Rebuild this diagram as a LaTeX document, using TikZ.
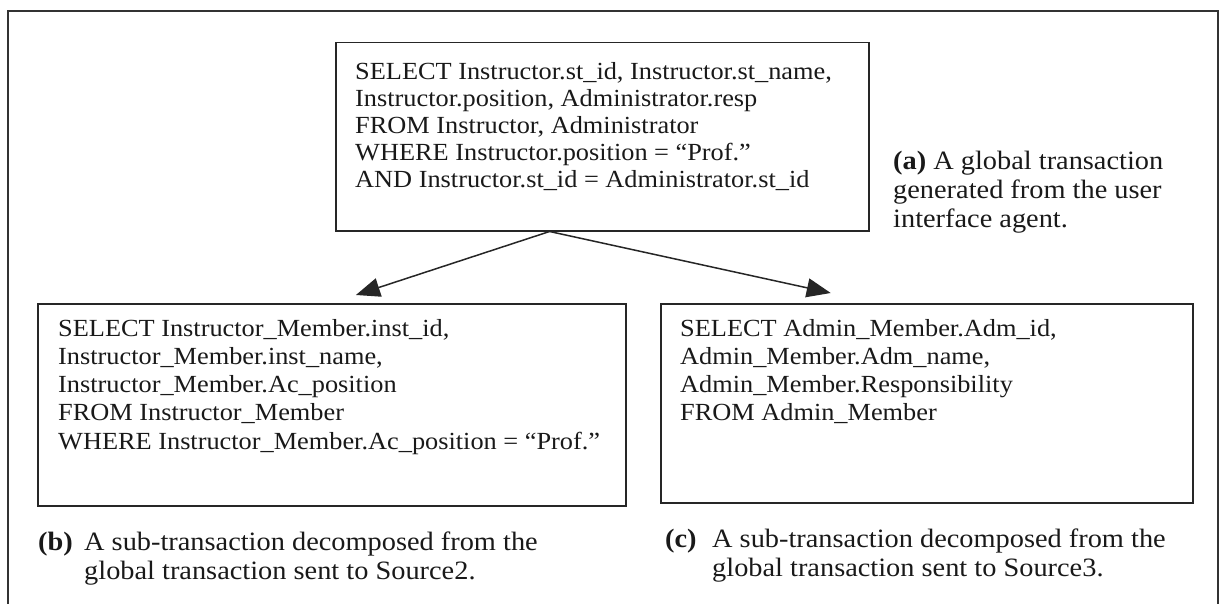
\documentclass[tikz,border=0pt]{standalone}
\usepackage{fontspec}
\setmainfont{Liberation Serif}[FakeStretch=1.07]
\usetikzlibrary{arrows.meta,calc}

\begin{document}
\begin{tikzpicture}[x=1pt,y=-1pt,
  frame/.style={draw=black!80, line width=1.3pt},
  qbox/.style={draw=black!85, line width=1.5pt, anchor=north west, inner sep=0pt},
  qtext/.style={anchor=north west, align=left, inner sep=0pt,
    font=\fontsize{24.6}{27}\selectfont, text=black!90},
  qtextb/.style={qtext, font=\fontsize{24.6}{28.2}\selectfont},
  captext/.style={anchor=north west, align=left, inner sep=0pt,
    font=\fontsize{26.5}{29}\selectfont, text=black!90},
  flow/.style={draw=black!85, line width=1.5pt,
    -{Triangle[length=24pt,width=19pt]}}]
\useasboundingbox (0,0) rectangle (1223,604);

% outer frame (open at the bottom)
\draw[frame] (8,604) -- (8,11) -- (1218,11) -- (1218,604);

% global transaction
\node[qbox, minimum width=533pt, minimum height=188pt] (glob) at (335,42) {};
\node[qtext] (globtxt) at (355,62) {SELECT Instructor.st\_id, Instructor.st\_name,\\
Instructor.position, Administrator.resp\\
FROM Instructor, Administrator\\
WHERE Instructor.position = “Prof.”\\
AND Instructor.st\_id = Administrator.st\_id};

% sub-transaction for Source2
\node[qbox, minimum width=588pt, minimum height=202pt] (src2) at (37,303) {};
\node[qtextb] (src2txt) at (58,319) {SELECT Instructor\_Member.inst\_id,\\
Instructor\_Member.inst\_name,\\
Instructor\_Member.Ac\_position\\
FROM Instructor\_Member\\
WHERE Instructor\_Member.Ac\_position = “Prof.”};

% sub-transaction for Source3
\node[qbox, minimum width=532pt, minimum height=199pt] (src3) at (660,303) {};
\node[qtextb] (src3txt) at (680,319) {SELECT Admin\_Member.Adm\_id,\\
Admin\_Member.Adm\_name,\\
Admin\_Member.Responsibility\\
FROM Admin\_Member};

% captions
\node[captext] (capa) at (893,151) {\textbf{(a)} A global transaction\\
generated from the user\\
interface agent.};
\node[captext] (capb) at (38,532) {\makebox[46pt][l]{\textbf{(b)}}A sub-transaction decomposed from the\\
\hspace*{46pt}global transaction sent to Source2.};
\node[captext] (capc) at (665,529) {\makebox[47pt][l]{\textbf{(c)}}A sub-transaction decomposed from the\\
\hspace*{47pt}global transaction sent to Source3.};

% decomposition arrows
\coordinate (split) at ($(glob.south west)!0.4015!(glob.south east)$);
\coordinate (tip2) at ($(src2.north west)!0.541!(src2.north east) + (0,-8)$);
\coordinate (tip3) at ($(src3.north west)!0.32!(src3.north east) + (0,-10)$);
\draw[flow] (split) -- (tip2);
\draw[flow] (split) -- (tip3);
\end{tikzpicture}
\end{document}
